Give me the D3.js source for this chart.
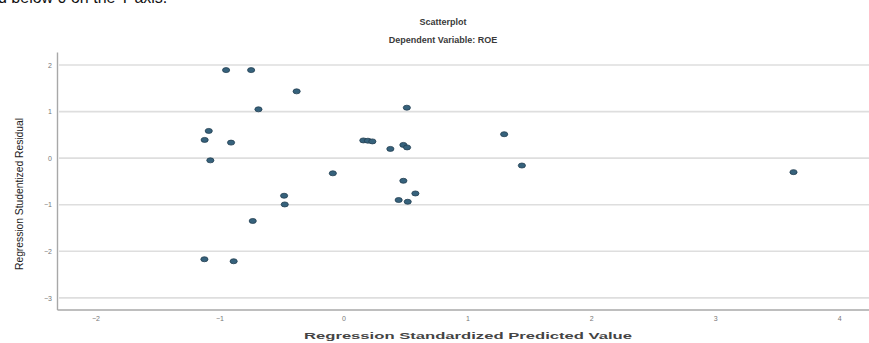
<!DOCTYPE html>
<html>
<head>
<meta charset="utf-8">
<script src="https://cdn.jsdelivr.net/npm/d3@7/dist/d3.min.js"></script>
<style>
  body { margin: 0; background: #fff; }
  text { font-family: "Liberation Sans", Arial, sans-serif; }
</style>
</head>
<body>
<div id="container"></div>
<script>
// residual plot values
var predicted = [-0.946, -0.744, -0.377, -0.685, 0.512, -1.086, -1.119, -0.906,
  0.161, 0.198, 0.234, 0.379, 0.484, 0.514, -1.073, -0.085, 0.484, 0.581,
  0.446, 0.519, -0.478, -0.473, -0.731, -1.121, -0.885, 1.297, 1.440, 3.631];
var residual = [1.891, 1.891, 1.435, 1.049, 1.084, 0.585, 0.392, 0.334,
  0.381, 0.375, 0.360, 0.199, 0.285, 0.231, -0.047, -0.325, -0.486, -0.758,
  -0.899, -0.936, -0.807, -0.994, -1.349, -2.171, -2.214, 0.514, -0.158, -0.300];
var xTicks = [-2, -1, 0, 1, 2, 3, 4];
var yTicks = [2, 1, 0, -1, -2, -3];

var svgWidth = 869;
var svgHeight = 343;

var margin = {
  top: 52,
  right: 0,
  bottom: 33.5,
  left: 57
};

var width = svgWidth - margin.left - margin.right;
var height = svgHeight - margin.top - margin.bottom;

var svg = d3.select("#container")
  .append("svg")
  .attr("width", svgWidth)
  .attr("height", svgHeight);

// leftover line of the document above the chart (cut off like in the scan)
svg.append("text")
  .attr("x", -2)
  .attr("y", 3)
  .style("font-size", "16px")
  .style("fill", "#111")
  .text("d below 0 on the Y axis.");

svg.append("text")
  .attr("x", 443)
  .attr("y", 25)
  .attr("text-anchor", "middle")
  .style("font-size", "9px")
  .style("font-weight", "bold")
  .style("fill", "#3a3a3a")
  .text("Scatterplot");

svg.append("text")
  .attr("x", 443)
  .attr("y", 43)
  .attr("text-anchor", "middle")
  .style("font-size", "9px")
  .style("font-weight", "bold")
  .style("fill", "#3a3a3a")
  .text("Dependent Variable: ROE");

var chartGroup = svg.append("g")
  .attr("transform", `translate(${margin.left}, ${margin.top})`);

var xLinearScale = d3.scaleLinear()
  .domain([-2.31, 4.24])
  .range([0, width]);

var yLinearScale = d3.scaleLinear()
  .domain([-3.25, 2.28])
  .range([height, 0]);

// horizontal grid
chartGroup.append("g")
  .selectAll("line")
  .data(yTicks)
  .enter()
  .append("line")
  .attr("x1", 2)
  .attr("x2", width)
  .attr("y1", d => yLinearScale(d))
  .attr("y2", d => yLinearScale(d))
  .attr("stroke", "#dedede")
  .attr("stroke-width", 1.6);

var leftAxis = d3.axisLeft(yLinearScale)
  .tickValues(yTicks)
  .tickFormat(d3.format("d"))
  .tickSize(0)
  .tickPadding(5);

var bottomAxis = d3.axisBottom(xLinearScale)
  .tickValues(xTicks)
  .tickFormat(d3.format("d"))
  .tickSize(0)
  .tickPadding(7);

var yAxisG = chartGroup.append("g").call(leftAxis);
var xAxisG = chartGroup.append("g")
  .attr("transform", `translate(0, ${height})`)
  .call(bottomAxis);

[yAxisG, xAxisG].forEach(function(g) {
  g.select(".domain").attr("stroke", "#a8a8a8").attr("stroke-width", 1.4);
  g.selectAll("text")
    .style("font-size", "7px")
    .style("fill", "#777")
    .style("font-family", "'Liberation Sans', Arial, sans-serif");
});

chartGroup.selectAll("ellipse")
  .data(predicted)
  .enter()
  .append("ellipse")
  .attr("cx", (d, i) => xLinearScale(d))
  .attr("cy", (d, i) => yLinearScale(residual[i]))
  .attr("rx", 3.6)
  .attr("ry", 2.5)
  .attr("fill", "#36627c")
  .attr("stroke", "#223d50")
  .attr("stroke-width", 0.8);

svg.append("text")
  .attr("transform", "translate(23, 194) rotate(-90)")
  .attr("text-anchor", "middle")
  .attr("textLength", 152)
  .attr("lengthAdjust", "spacingAndGlyphs")
  .style("font-size", "10px")
  .style("fill", "#222")
  .text("Regression Studentized Residual");

svg.append("text")
  .attr("x", 468)
  .attr("y", 339)
  .attr("text-anchor", "middle")
  .attr("textLength", 328)
  .attr("lengthAdjust", "spacingAndGlyphs")
  .style("font-size", "9.5px")
  .style("font-weight", "bold")
  .style("fill", "#444")
  .text("Regression Standardized Predicted Value");
</script>
</body>
</html>
